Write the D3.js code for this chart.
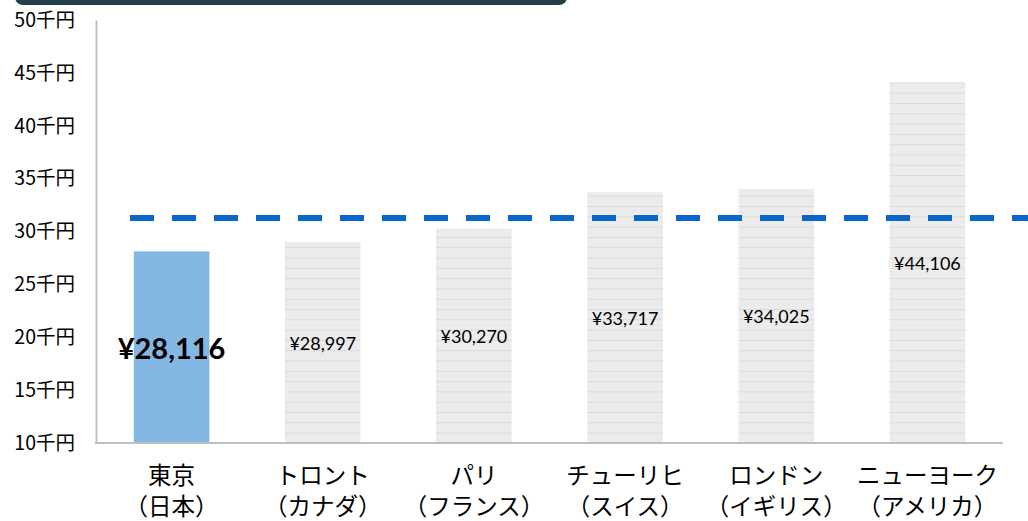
<!DOCTYPE html>
<html>
<head>
<meta charset="utf-8">
<script src="https://cdn.jsdelivr.net/npm/d3@7"></script>
<style>
  html, body { margin: 0; padding: 0; background: #fff; }
  svg { display: block; }
  text { font-family: "Lato", "Noto Sans CJK JP", sans-serif; fill: #000; }
  .jp { font-family: "Noto Sans CJK JP", sans-serif; }
</style>
</head>
<body>
<svg id="chart" width="1028" height="521"></svg>
<script>
// City names (first line) and countries (second line) for each bar
const cities = ["東京", "トロント", "パリ", "チューリヒ", "ロンドン", "ニューヨーク"];
const countries = ["（日本）", "（カナダ）", "（フランス）", "（スイス）", "（イギリス）", "（アメリカ）"];
// Monthly amount in yen
const values = [28116, 28997, 30270, 33717, 34025, 44106];
// Horizontal reference level (dashed line)
const referenceValue = [31280];
// Y axis tick values and labels
const tickValues = [10000, 15000, 20000, 25000, 30000, 35000, 40000, 45000, 50000];
const tickLabels = ["10千円", "15千円", "20千円", "25千円", "30千円", "35千円", "40千円", "45千円", "50千円"];

const svg = d3.select("#chart");
const plotLeft = 96, plotRight = 1003, plotTop = 20, plotBottom = 443;

const x = d3.scaleBand().domain(cities).range([plotLeft, plotRight]).paddingInner(0.5).paddingOuter(0.25);
const y = d3.scaleLinear().domain([10000, 50000]).range([plotBottom, plotTop]);

// Fill patterns
const defs = svg.append("defs");
const gp = defs.append("pattern").attr("id", "grayLines").attr("patternUnits", "userSpaceOnUse")
  .attr("width", 4).attr("height", 10.3);
gp.append("rect").attr("width", 4).attr("height", 10.3).attr("fill", "#ececec");
gp.append("rect").attr("y", 0).attr("width", 4).attr("height", 1).attr("fill", "#dadada");
gp.append("rect").attr("x", 1).attr("y", 5).attr("width", 1).attr("height", 1).attr("fill", "#e4e4e4");

const bp = defs.append("pattern").attr("id", "blueDots").attr("patternUnits", "userSpaceOnUse")
  .attr("width", 4).attr("height", 4);
bp.append("rect").attr("width", 4).attr("height", 4).attr("fill", "#80b4e1");
bp.append("rect").attr("width", 2).attr("height", 2).attr("fill", "#86b9e4");
bp.append("rect").attr("x", 2).attr("y", 2).attr("width", 2).attr("height", 2).attr("fill", "#86b9e4");

// Header band at the top
svg.append("rect").attr("x", 15).attr("y", -20).attr("width", 552).attr("height", 25)
  .attr("rx", 8).attr("fill", "#233f4a");

// Bars
svg.append("g").selectAll("rect").data(values).join("rect")
  .attr("x", (d, i) => x(cities[i]))
  .attr("y", d => y(d))
  .attr("width", x.bandwidth())
  .attr("height", d => y(10000) - y(d))
  .attr("fill", (d, i) => i === 0 ? "url(#blueDots)" : "url(#grayLines)");

// Axes
const yAxis = d3.axisLeft(y).tickValues(tickValues)
  .tickFormat((d, i) => tickLabels[i]).tickSize(0).tickPadding(21);
const gy = svg.append("g").attr("transform", `translate(${plotLeft},0)`).call(yAxis);
gy.select(".domain").attr("stroke", "#bfbfbf").attr("stroke-width", 2);
gy.selectAll("text").attr("class", "jp").style("font-size", "19.5px").attr("fill", "#000");

svg.append("line").attr("x1", plotLeft - 1).attr("x2", plotRight).attr("y1", plotBottom).attr("y2", plotBottom)
  .attr("stroke", "#bfbfbf").attr("stroke-width", 2);

// Value labels centred in each bar
svg.append("g").selectAll("text").data(values).join("text")
  .attr("x", (d, i) => x(cities[i]) + x.bandwidth() / 2)
  .attr("y", d => (y(d) + y(10000)) / 2)
  .attr("text-anchor", "middle")
  .attr("dominant-baseline", "central")
  .style("font-size", (d, i) => i === 0 ? "29px" : "18px")
  .style("font-weight", (d, i) => i === 0 ? "bold" : "normal")
  .text(d => "¥" + d3.format(",")(d));

// Category labels (two lines)
const cat = svg.append("g").selectAll("g").data(cities).join("g")
  .attr("transform", d => `translate(${x(d) + x.bandwidth() / 2},0)`);
cat.append("text").attr("class", "jp").attr("text-anchor", "middle").attr("y", 484)
  .style("font-size", "23.5px").text(d => d);
cat.append("text").attr("class", "jp").attr("text-anchor", "middle").attr("y", 515)
  .style("font-size", "23.5px").text((d, i) => countries[i]);

// Dashed reference line
svg.append("g").selectAll("line").data(referenceValue).join("line")
  .attr("x1", 130).attr("x2", 1028)
  .attr("y1", d => y(d)).attr("y2", d => y(d))
  .attr("stroke", "#0a66c8").attr("stroke-width", 6)
  .attr("stroke-dasharray", "24 18");
</script>
</body>
</html>
